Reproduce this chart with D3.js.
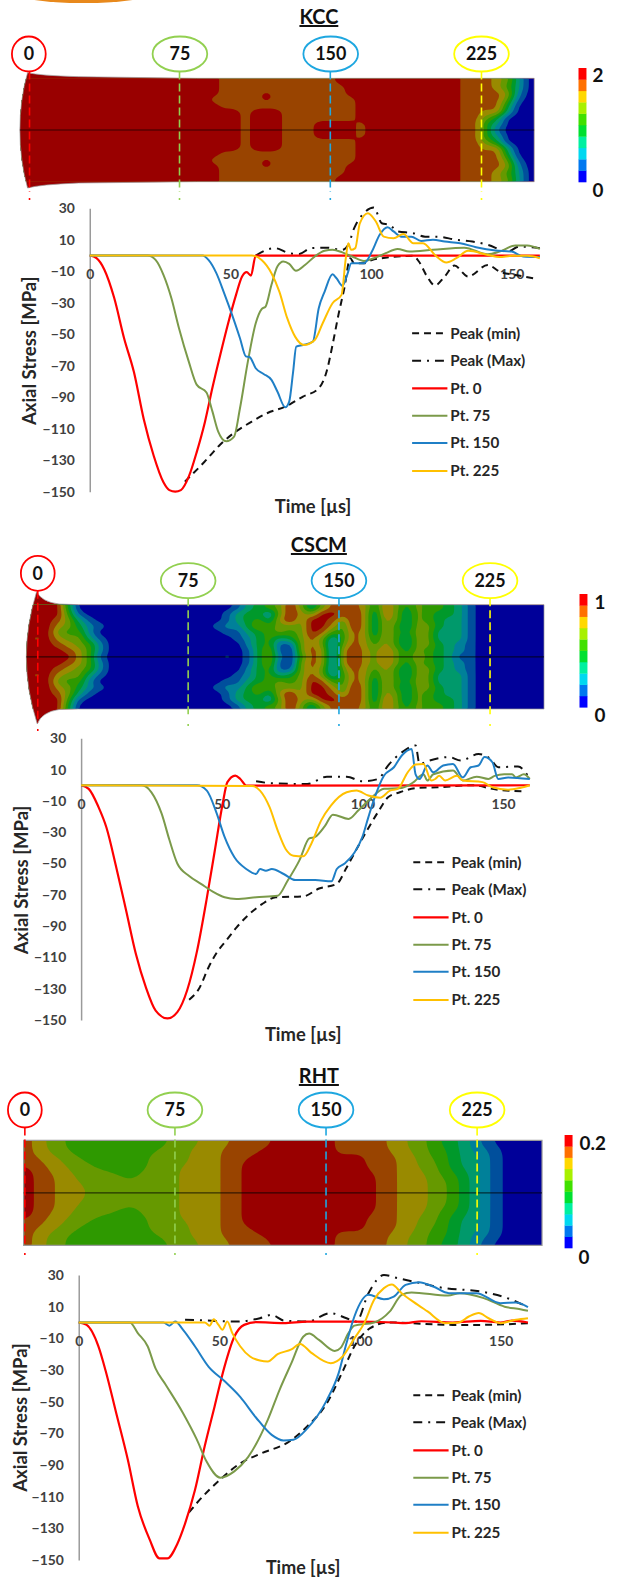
<!DOCTYPE html>
<html><head><meta charset="utf-8">
<script src="https://cdn.jsdelivr.net/npm/d3@7"></script>
<style>html,body{margin:0;padding:0;background:#fff}svg{display:block}text{font-family:Lato,"Open Sans",sans-serif}</style>
</head><body>
<svg id="c" width="618" height="1580"></svg>
<script>
// ---------- Series: [time µs, axial stress MPa] ----------
const kccMin=[[33.8,-143.6],[40.8,-131],[46.4,-120],[51,-113],[57.6,-105.5],[63.2,-100],[69.5,-96],[75.8,-89.6],[81.4,-84.3],[84.2,-73.7],[86.3,-56.8],[88.4,-37.7],[90.5,-20.8],[92.6,-1.7],[94,-4.9],[97.5,-4.9],[100.3,-2.8],[103.8,-1.7],[115,-0.2],[117,-3.8],[119.9,-13.3],[122.7,-19],[126.2,-13.3],[129.6,-6.4],[134.5,-13.3],[141.5,-6],[145.7,-10.2],[151.3,-12.3],[157.6,-14.4]];
const kccMax=[[59,0],[65.8,4.7],[70.9,1.5],[74.5,1],[78.6,4.7],[84.2,5],[89.8,3.6],[91.9,6.8],[94,17.4],[97.5,27],[101,30.5],[103.8,20.5],[106.6,19.5],[109.4,15.3],[115,14.2],[119.2,12],[123.4,12],[130.3,10],[136,8.9],[141.5,6.8],[148.5,2.5],[152.7,5.7],[160,4.7]];
const kccPt0=[[0,0],[2.4,-1.7],[5.2,-9],[8.7,-27],[12.2,-52.5],[15.7,-74],[19.2,-104],[22.7,-127],[26.2,-144],[28.3,-149],[30.4,-150],[32.4,-149],[35.3,-140],[38,-125],[40.9,-106],[43.6,-84],[46.4,-63],[49.2,-43],[52,-25],[54.1,-13.5],[55.8,-10.6],[57.3,-12.7],[59,0],[160,0]];
const kccPt75=[[0,0],[20.6,0],[23.4,-2.8],[26.2,-12.3],[29,-27],[31.7,-46],[35.2,-67.4],[38,-82],[41.5,-87],[43.6,-99],[45.7,-112],[48.5,-118],[51.3,-115],[53.4,-97],[56.2,-67.4],[59,-43],[61.1,-34],[62.5,-32.4],[64.6,-18.6],[66.7,-7],[68.8,-3.8],[70.9,-5.3],[73.3,-9.7],[76.5,-6],[80,-0.6],[83.5,3],[86.3,3.6],[89.8,2],[93.3,-0.6],[97.5,-3.4],[101,-1.7],[105.2,1.5],[109.4,4.2],[113.6,2.5],[122,3.6],[133.1,5],[141.5,0.8],[145.7,2.5],[151.3,6.4],[155.5,6.4],[160,4.2]];
const kccPt150=[[0,0],[40.1,0],[42.2,-2.8],[45,-11.2],[47.8,-24],[50.6,-37.7],[53.4,-52.5],[55.5,-64],[56.9,-64.6],[59,-71.6],[61.8,-75.2],[64.6,-79],[66.7,-86.4],[69.5,-96.4],[70.9,-92.8],[72.3,-73.7],[73.4,-57.8],[75.8,-56.8],[79.3,-54.7],[81.4,-33.5],[83.5,-22.9],[86.3,-11.9],[87.7,-14.4],[89.8,-19.3],[91.5,-12.3],[93,-4.9],[97.5,-4.9],[100.3,2.5],[103,13],[105.9,18],[108,15.3],[110.8,12],[114.3,12],[117.8,9.3],[122,10],[126.2,8.9],[131.7,7.8],[137.3,5.3],[144.3,3.2],[150,2.5],[154.1,-0.6],[160,-1]];
const kccPt225=[[0,0],[57.6,0],[61.1,-2.8],[64.6,-11.2],[67.4,-22.9],[70.2,-39.8],[73,-51.5],[76.1,-56.8],[80,-53.6],[82.8,-43],[86.3,-30.3],[89.5,-25],[91,-2],[91.9,7.8],[92.9,3.6],[94.4,4.7],[96,20.5],[98.9,26.9],[101.7,21.6],[104.5,12],[108,11],[111.5,13.6],[115,7.8],[118.5,7.8],[122.7,0.4],[126.8,-4.4],[130.3,-1.7],[134.5,3],[141.5,0.4],[145.7,-1],[150,-0.2],[155.5,-0.2],[160,-1.7]];

const cscmMin=[[38.4,-137],[41.9,-130],[45.4,-116],[48.2,-107],[51.7,-99],[55.2,-91],[59.4,-83],[64.3,-76],[69.2,-71.6],[79,-71],[84.6,-66],[90.9,-63],[94.4,-52.5],[100,-34],[105.6,-17],[109.1,-7.7],[113.3,-4.5],[119.6,-1.7],[126.7,-1.3],[139.2,0],[147.6,-2.8],[158,-4]];
const cscmMax=[[62.2,2.5],[67.8,1.3],[80.4,0.8],[87.4,5.5],[94.4,5.5],[100,2.5],[105.6,4],[109.1,12.6],[114,21],[118.9,25.4],[120.3,13.6],[123.8,15.8],[130.8,18],[135,15.8],[141.3,20],[145.5,16.8],[148.3,11.5],[155.3,12],[159.5,4]];
const cscmPt0=[[0,0],[2.7,-2.3],[6.2,-14],[9,-27],[12.5,-52.5],[16,-80],[19.5,-108],[23,-129],[26.5,-144],[30.7,-149],[34.2,-145],[37.7,-131],[41.2,-106],[44.7,-72],[47.5,-42],[50.3,-12],[52,2],[54.8,6.2],[56.6,4],[58.7,-0.2],[159.5,0]];
const cscmPt75=[[0,0],[21.6,0],[25,-4.5],[28.6,-18],[31.4,-35],[34.2,-50],[38.4,-58],[42.6,-63],[46.8,-68],[51,-71.6],[55.2,-72.7],[62.2,-71.6],[69.9,-70.6],[73.4,-61],[77.6,-48],[81.1,-34],[83.2,-33],[86.7,-26],[89.5,-18.8],[95.1,-21.5],[98.6,-16],[102.8,-8.7],[107.7,-2.3],[114,-1.7],[118.2,2],[121.7,7],[123.1,3],[125.2,7],[132.2,9.4],[135.7,3],[140.6,5.5],[144.8,4],[147,6],[150.4,7],[153.2,7],[154.6,5],[157.4,7],[159.5,4]];
const cscmPt150=[[0,0],[41.2,0],[44.7,-3.4],[48.2,-18],[51,-33],[54.5,-46],[58.7,-53.5],[62.2,-56.7],[63.6,-53.5],[65.7,-54.6],[67.8,-53.5],[72,-56.7],[76.2,-60.6],[83.2,-60.6],[89,-61.4],[90.9,-53.5],[93.7,-50],[97.2,-43],[100,-33],[102.1,-20.5],[104.2,-8.7],[107.7,6.2],[111.2,11.5],[114,19],[117.5,23.2],[118.9,7],[120.3,4],[123.1,12.6],[125.2,8.3],[128.7,12.6],[132.2,13.6],[135.7,5],[138.5,11.5],[141.3,12.6],[143.4,18],[146.2,14.7],[148.3,4],[151.8,5],[159.5,4]];
const cscmPt225=[[0,0],[60.8,-0.4],[63.6,-3.4],[67,-14],[69.9,-29],[72.7,-40.7],[75.5,-45],[79,-45.4],[81.8,-37.5],[85.3,-22.6],[88.8,-13],[94.4,-4.5],[97.9,-3.4],[102.1,-6.6],[106.3,-8],[109.8,-3.4],[112.6,-2.3],[116.1,8.3],[118.9,13.2],[121.7,13.6],[124.5,3],[125.9,4],[127.3,6],[129.4,3],[133.6,6],[135.7,3],[142.7,2],[146.2,-1.3],[151.8,-2.8],[156,-1.7],[159.5,0]];

const rhtMin=[[39.2,-120],[42,-114],[50.4,-99],[57.4,-89],[64.4,-83],[75,-75],[81.2,-65.7],[88.2,-51],[93.8,-31],[98,-15],[103.6,-3.6],[110,0],[133,-1.5],[142.9,-1.5],[159.7,-0.4]];
const rhtMax=[[37.8,1.7],[44.8,1.3],[56,0.6],[64.4,2.7],[68.6,4.8],[72.8,1.3],[81.2,0.6],[89.6,5.9],[95.2,2.7],[98.7,0.6],[103,18.5],[108.5,30],[113.4,28],[120.4,25.3],[130,21.7],[143,19.6],[154,14.3],[159.7,9.7]];
const rhtPt0=[[0,0],[2.8,-1.5],[7,-15],[9.8,-32],[13.3,-57],[17.5,-87],[21,-116],[25.2,-137],[28.7,-149],[31.5,-149],[35,-140],[37.8,-127],[41.3,-106],[44.8,-78],[48.3,-53],[51.8,-28],[55.3,-9],[58.8,-1.5],[63,0.2],[72.8,-0.4],[81.2,0.6],[98,0.6],[112,0],[116.2,-0.4],[121.8,0.8],[133,0],[142.9,1],[149.9,0],[154,1.2],[159.7,0]];
const rhtPt75=[[0,0],[18.2,0],[21,-6.7],[24.5,-15],[27.3,-29],[30.8,-39],[37,-57],[42,-74],[45.5,-88],[50.4,-98],[55.3,-94],[60.2,-85],[67.2,-61.5],[71.4,-42.5],[75.6,-25.7],[79.8,-9],[81.9,-7],[85.4,-11],[91,-18],[93.1,-16],[95.9,-6.7],[98,-2],[105,0],[110.6,7],[114.8,17.5],[118.3,19],[131.3,17],[135.5,18.5],[144,15.4],[151.4,10],[157,8.4],[159.7,7.4]];
const rhtPt150=[[0,0],[30.1,0],[32.2,-2],[34.3,0.6],[37.1,-4.6],[41.3,-15],[46.2,-28],[51.8,-37],[57.4,-47],[63,-60],[68.6,-71],[72.8,-74.5],[76.3,-74],[81.2,-67],[88.2,-49],[92.4,-32],[95.2,-13],[98,3.8],[103,17.5],[108.5,14.7],[112,16.4],[116.2,23.8],[121,25.5],[126,22.7],[131.6,18.5],[141.4,18.5],[149.9,12.2],[155.4,12.6],[159.7,9.7]];
const rhtPt225=[[0,0],[44.8,0],[46.5,-2],[48,2],[49.7,-1.5],[51.1,-4.6],[52.8,0.6],[54.6,-6.7],[57.4,-15],[60.9,-21.5],[64.4,-24],[67.2,-24.6],[70.7,-20],[75.6,-17],[78.7,-13.5],[82.6,-19],[89.6,-25.7],[93.8,-21.5],[98,-10],[101.5,-0.4],[105,14.3],[108.5,21.7],[111.3,24],[114.8,18.5],[119,13],[124,7],[130.3,-0.4],[135,0],[138.7,3.8],[142.2,6],[145.7,2.7],[149.9,-0.4],[155.4,1.7],[159.7,2.7]];

// ---------- Tick labels, legend names, pins ----------
const yTicks=[30,10,-10,-30,-50,-70,-90,-110,-130,-150];
const xTicks=[0,50,100,150];
const seriesNames=["Peak (min)","Peak (Max)","Pt. 0","Pt. 75","Pt. 150","Pt. 225"];
const pinNames=["0","75","150","225"];

// ---------- Fringe fields: band index per cell (top edge to mid-line), mirrored below ----------
const kccField=[
"9999999999999999999 88888888888 999999999999 888 76300",
"9999999999999999999 888888888888 99999999999 888 75300",
"9999999999999999999 8888 9 8888888 99999999999 8888 7200",
"999999999999999999 88888 9 88888888 9999999999 8888 6100",
"9999999999999999999 8888888888888 9999999999 8888 4000",
"999999999999999999999 8 999 8888888 9999999999 88 783000",
"999999999999999999999 8 999 8888888 9999999999 88 640000",
"999999999999999999999 8 999 888 9999 8 999999999 88 430000",
"999999999999999999999 8 999 888 9999 8 999999999 88 510000"];
const cscmField=[
"999940000000000000 00134569636888748646554310 000000",
"999951000000000000 01344269769989738636544310 000000",
"999863100000000000 01345379699869737636543310 000000",
"999764210000000000 12246566699759737536643310 000000",
"999655200000000000 01134565698558737546633310 000000",
"989766310000000000 00124534686258747536633310 000000",
"999876520000000000 00024511686168757536643210 000000",
"999987520000000000 00014610687179768646543210 000000",
"999997510000000000 01014620587179768647543110 000000"];
const rhtField=[
"87665554 555555 666 777 8888 999999 88888 77665 44321 00000",
"8766 555555555 666 777 8888 9999999 88888 77665 543221 0000",
"87766 5555555 6666 777 888 99999999 8 99 888 77 6 55 4 33 2 1 0000",
"887766 555555 6666 777 88 999999999999 888 77 66 5 4 33 2 1 0000",
"9877 666 55555 666 7777 88 999999999999 888 77 66 5 4 33 2 1 0000",
"98877 6666 55 6666 7777 88 9999999999999 88 777 6 55 4 3 2 1 0000",
"98877 66666 5 6666 7777 88 9999999999999 88 777 66 5 4 3 2 1 0000",
"988777 666666666 7777 88 9999999999999 88 777 66 5 4 3 2 1 0000",
"988777 666666666 7777 88 9999999999999 88 777 66 5 4 3 2 1 0000"];

// ---------- Styles ----------
const fringe=["#000099","#004f9c","#008099","#00996b","#00992b","#2e9900","#669900","#998a00","#994400","#990000"];
const barColours=["#0000ff","#0078f0","#00d8f0","#00f0a0","#00e030","#40e000","#a8f000","#ffd800","#ff7000","#ff0000"];
const pinColours=["#ff0000","#92d050","#1ea7e0","#ffff00"];
const seriesStyle=[
 {c:"#111",w:2,d:"7,5"},{c:"#111",w:2,d:"9,6,2,6"},
 {c:"#ff0000",w:2.2},{c:"#7b9a4a",w:2},{c:"#1f7fc6",w:2},{c:"#ffc000",w:2}];

const svg=d3.select("#c").append("g").attr("transform","scale(0.994,1)");
svg.append("ellipse").attr("cx",84).attr("cy",-8).attr("rx",72).attr("ry",11).attr("fill","#e8891c");

function drawField(p){
  const g=svg.append("g");
  const clipId="clip"+p.id;
  svg.append("clipPath").attr("id",clipId).append("path").attr("d",p.outline);
  g.append("path").attr("d",p.outline).attr("fill",fringe[9]);
  const rows=p.field.map(s=>s.replace(/\s/g,"").split("").map(Number));
  const nx=d3.max(rows,r=>r.length);
  rows.forEach(r=>{while(r.length<nx)r.push(r[r.length-1]);});
  const all=rows.concat(rows.slice(0,-1).reverse());
  const ny=all.length, f=4, W=nx*f, H=ny*f;
  const vals=new Float64Array(W*H);
  for(let y=0;y<H;y++)for(let x=0;x<W;x++)vals[y*W+x]=all[Math.floor(y/f)][Math.floor(x/f)];
  const blurred={data:vals,width:W,height:H};
  if(d3.blur2)d3.blur2(blurred,p.blur,p.blur);
  const start=p.x0-p.shift*p.step;
  const sx=d3.scaleLinear().domain([0,W]).range([start,start+nx*p.step]);
  const sy=d3.scaleLinear().domain([0,H]).range([p.y0,p.y1]);
  const path=d3.geoPath(d3.geoTransform({point(x,y){this.stream.point(sx(x),sy(y));}}));
  const inner=g.append("g").attr("clip-path",`url(#${clipId})`);
  inner.append("rect").attr("x",p.x0).attr("y",p.y0).attr("width",p.x1-p.x0).attr("height",p.y1-p.y0).attr("fill",fringe[0]);
  const conts=d3.contours().size([W,H]).thresholds(d3.range(1,10).map(k=>k-0.5))(Array.from(vals));
  conts.forEach((c,i)=>{
    inner.append("path").attr("d",path(c)).attr("fill",fringe[i+1]);
  });
  g.append("path").attr("d",p.outline).attr("fill","none").attr("stroke","#9a9a9a").attr("stroke-width",p.border);
  g.append("line").attr("x1",p.x0).attr("x2",p.x1).attr("y1",(p.y0+p.y1)/2).attr("y2",(p.y0+p.y1)/2)
    .attr("stroke","#000").attr("stroke-opacity",.65).attr("stroke-width",1.2);

  svg.append("text").attr("x",p.titleX).attr("y",p.titleY).attr("text-anchor","middle")
    .attr("font-size",20).attr("font-weight",700).attr("fill","#111")
    .style("text-decoration","underline").text(p.title);

  p.pins.forEach((pin,i)=>{
    const pg=svg.append("g");
    pg.append("line").attr("x1",pin.x).attr("x2",pin.x).attr("y1",pin.cy+17.5).attr("y2",pin.yEnd)
      .attr("stroke",pinColours[i]).attr("stroke-width",1.6).attr("stroke-dasharray","8,4");
    pg.append("line").attr("x1",pin.x).attr("x2",pin.x).attr("y1",pin.yEnd+6).attr("y2",pin.yEnd+8)
      .attr("stroke",pinColours[i]).attr("stroke-width",1.6);
    pg.append("ellipse").attr("cx",pin.ex).attr("cy",pin.cy).attr("rx",i===0?17:27.5).attr("ry",17.5)
      .attr("fill","#fff").attr("stroke",pinColours[i]).attr("stroke-width",1.8);
    pg.append("text").attr("x",pin.ex).attr("y",pin.cy+6.3).attr("text-anchor","middle")
      .attr("font-size",18).attr("font-weight",700).attr("fill","#111").text(pinNames[i]);
  });

  const band=d3.scaleBand().domain(d3.range(9,-1,-1)).range([p.barY0,p.barY1]);
  svg.append("g").selectAll("rect").data(d3.range(10)).join("rect")
    .attr("x",p.barX).attr("width",8).attr("y",d=>band(d)).attr("height",band.bandwidth()+.3).attr("fill",d=>barColours[d]);
  p.barLabels.forEach(l=>svg.append("text").attr("x",l.x).attr("y",l.y).attr("font-size",l.s||19)
    .attr("font-weight",700).attr("fill","#111").text(l.t));
}

function drawChart(p){
  const x=d3.scaleLinear().domain([0,160]).range([p.left,p.left+160*p.kx]);
  const y=d3.scaleLinear().domain([-150,30]).range([p.bottom,p.top]);
  const g=svg.append("g");
  const ya=g.append("g").attr("transform",`translate(${p.left},0)`)
    .call(d3.axisLeft(y).tickValues(yTicks).tickSize(0).tickPadding(p.pad).tickFormat(d3.format("d")));
  ya.select(".domain").attr("stroke","#9a9a9a").attr("stroke-width",1.5);
  const xa=g.append("g").attr("transform",`translate(0,${y(0)})`)
    .call(d3.axisBottom(x).tickValues(xTicks).tickSize(0).tickPadding(14).tickFormat(d3.format("d")));
  xa.select(".domain").remove();
  g.selectAll(".tick text").attr("font-size",14).attr("font-weight",700).attr("fill","#404040").style("font-family","Lato,sans-serif");
  const line=d3.line().x(d=>x(d[0])).y(d=>y(d[1])).curve(d3.curveMonotoneX);
  p.series.forEach((s,i)=>{
    const st=seriesStyle[i];
    g.append("path").attr("d",line(s)).attr("fill","none").attr("stroke",st.c).attr("stroke-width",st.w)
      .attr("stroke-dasharray",st.d||null).attr("stroke-linejoin","round");
  });
  g.append("text").attr("transform",`translate(${p.yTitleX},${p.yTitleY}) rotate(-90)`).attr("text-anchor","middle")
    .attr("font-size",18.5).attr("font-weight",700).attr("fill","#262626").text("Axial Stress [MPa]");
  g.append("text").attr("x",p.xTitleX).attr("y",p.xTitleY).attr("text-anchor","middle")
    .attr("font-size",p.xTitleSize||18.5).attr("font-weight",700).attr("fill","#262626").text("Time [µs]");
  seriesNames.forEach((n,i)=>{
    const st=seriesStyle[i], ly=p.legY[i];
    g.append("line").attr("x1",p.legX).attr("x2",p.legX+35.5).attr("y1",ly).attr("y2",ly)
      .attr("stroke",st.c).attr("stroke-width",st.w).attr("stroke-dasharray",st.d||null);
    g.append("text").attr("x",p.legX+38.5).attr("y",ly+5.5).attr("font-size",15.3).attr("font-weight",700)
      .attr("fill","#262626").text(n);
  });
}

drawField({id:"k",title:"KCC",titleX:320.8,titleY:24,field:kccField,x0:20,x1:537.4,y0:78.3,y1:181.7,border:.7,blur:1.5,shift:0,step:10.55,
  outline:"M27.7,72.7 Q40,75.5 79,76.7 L198,78.3 L537.4,78.3 L537.4,181.7 L198,181.7 L79,183 Q40,184.5 27.7,188 Q20,160 20,130 Q20,100 27.7,72.7 Z",
  pins:[{x:29.7,ex:29,cy:54,yEnd:192},{x:180.6,ex:181,cy:54,yEnd:192},{x:332.3,ex:332.7,cy:54,yEnd:192},{x:484.4,ex:484.4,cy:54,yEnd:192}],
  barX:582,barY0:68,barY1:182,barLabels:[{t:"2",x:596,y:82},{t:"0",x:596,y:197}]});
drawChart({left:90.3,kx:2.83,top:208.3,bottom:491.7,pad:15,series:[kccMin,kccMax,kccPt0,kccPt75,kccPt150,kccPt225],
  yTitleX:36,yTitleY:350.8,xTitleX:315,xTitleY:513,legX:414.6,legY:[333.3,360.7,388.3,415.7,443,471]});

drawField({id:"c",title:"CSCM",titleX:320.8,titleY:552,field:cscmField,x0:26.5,x1:547.3,y0:604.7,y1:709,border:.7,blur:1.2,shift:0.5,step:10.63,
  outline:"M36.8,591.7 Q42,602 59.4,604 L79,604.7 L547.3,604.7 L547.3,709 L79,709 L59.4,709.5 Q42,712 37.5,724 Q26.5,690 26.5,657 Q26.5,625 36.8,591.7 Z",
  pins:[{x:38,ex:38,cy:573.3,yEnd:723},{x:189.3,ex:189.3,cy:580.7,yEnd:718},{x:341,ex:341,cy:580.7,yEnd:718},{x:493,ex:493,cy:580.7,yEnd:718}],
  barX:583,barY0:594,barY1:707.3,barLabels:[{t:"1",x:598,y:609},{t:"0",x:598,y:722}]});
drawChart({left:81.6,kx:2.83,top:738.3,bottom:1020,pad:15,series:[cscmMin,cscmMax,cscmPt0,cscmPt75,cscmPt150,cscmPt225],
  yTitleX:28,yTitleY:880,xTitleX:305,xTitleY:1041,legX:415.8,legY:[862.3,889.3,917.3,944.7,971.7,1000]});

drawField({id:"r",title:"RHT",titleX:320.8,titleY:1083,field:rhtField,x0:23.8,x1:545.3,y0:1140.3,y1:1245.3,border:1.2,blur:3,shift:0,step:10.43,
  outline:"M23.8,1140.3 L545.3,1140.3 L545.3,1245.3 L23.8,1245.3 Z",
  pins:[{x:25,ex:25,cy:1110,yEnd:1247},{x:176,ex:176,cy:1110,yEnd:1247},{x:328,ex:328,cy:1110,yEnd:1247},{x:480,ex:480,cy:1110,yEnd:1247}],
  barX:568,barY0:1135,barY1:1248,barLabels:[{t:"0.2",x:583,y:1150},{t:"0",x:582,y:1264}]});
drawChart({left:79.2,kx:2.83,top:1275,bottom:1560,pad:15,series:[rhtMin,rhtMax,rhtPt0,rhtPt75,rhtPt150,rhtPt225],
  yTitleX:27,yTitleY:1417.5,xTitleX:305,xTitleY:1574,xTitleSize:18,legX:415.8,legY:[1395.3,1422.3,1450.3,1477.7,1504.7,1532.7]});
</script>
</body></html>
